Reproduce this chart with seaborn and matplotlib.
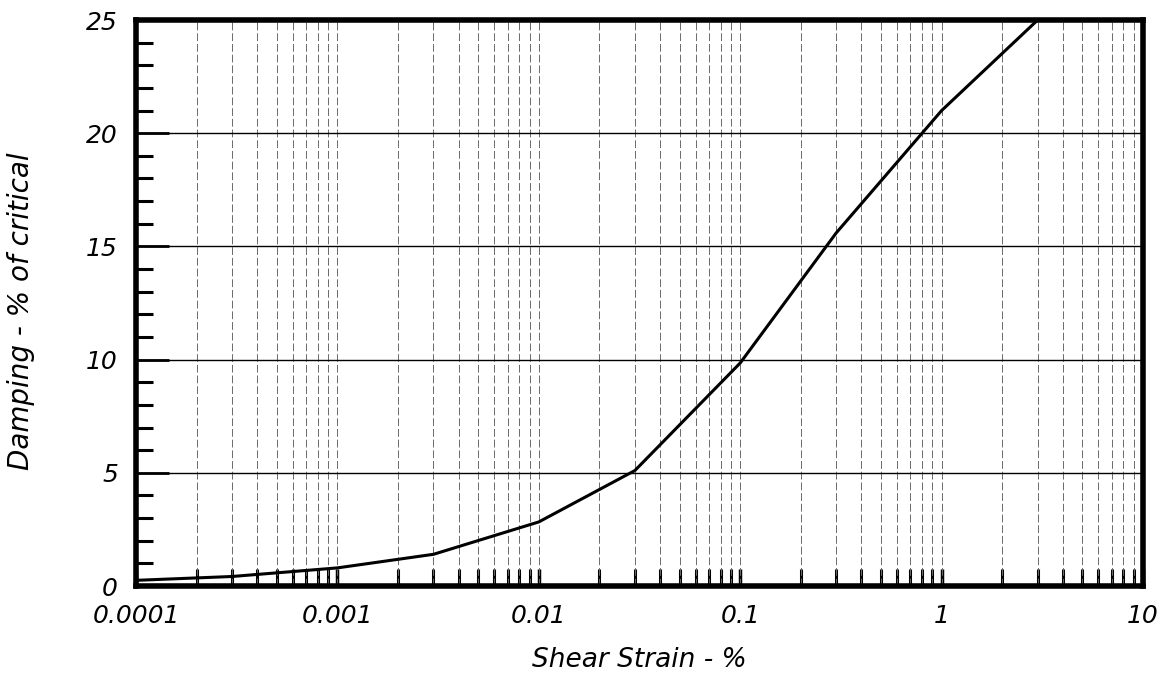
import numpy as np
import pandas as pd
import matplotlib
matplotlib.use("Agg")
import matplotlib.pyplot as plt
import seaborn as sns
from matplotlib.ticker import LogLocator, FixedLocator, FixedFormatter, MultipleLocator

strain = [0.0001, 0.0003, 0.001, 0.003, 0.01, 0.03, 0.1, 0.3, 1.0, 3.0]
damping = [0.25, 0.42, 0.8, 1.4, 2.83, 5.1, 9.85, 15.6, 21.0, 25.0]
xtick_vals = [0.0001, 0.001, 0.01, 0.1, 1, 10]
xtick_labels = ["0.0001", "0.001", "0.01", "0.1", "1", "10"]
ytick_vals = [0, 5, 10, 15, 20, 25]

sns.set_theme(style="white")
plt.rcParams['font.family'] = ['DejaVu Sans']
plt.rcParams['font.style'] = 'italic'
plt.rcParams['text.color'] = 'black'
plt.rcParams['axes.labelcolor'] = 'black'
plt.rcParams['xtick.color'] = 'black'
plt.rcParams['ytick.color'] = 'black'

df = pd.DataFrame({"strain": strain, "damping": damping})

fig = plt.figure(figsize=(11.76, 6.79), dpi=100)
ax = fig.add_axes([136/1176, 1 - 586/679, (1143-136)/1176, (586-20)/679])

ax.set_xscale("log")
ax.set_xlim(1e-4, 10)
ax.set_ylim(0, 25)

# grid
for dec in [1e-4, 1e-3, 1e-2, 1e-1, 1]:
    for m in range(1, 10):
        xv = dec * m
        if 1e-4 < xv < 10:
            ax.axvline(xv, color="#6a6a6a", lw=0.7, ls=(0, (8, 3)), zorder=1)
for yv in [5, 10, 15, 20]:
    ax.axhline(yv, color="black", lw=1.0, zorder=1)

sns.lineplot(data=df, x="strain", y="damping", ax=ax, color="black", lw=2.2, zorder=3, clip_on=True)

ax.xaxis.set_major_locator(FixedLocator(xtick_vals))
ax.xaxis.set_major_formatter(FixedFormatter(xtick_labels))
ax.xaxis.set_minor_locator(LogLocator(base=10, subs=np.arange(2, 10), numticks=20))
ax.yaxis.set_major_locator(FixedLocator(ytick_vals))
ax.yaxis.set_minor_locator(MultipleLocator(1))

ax.tick_params(axis="x", which="major", direction="in", length=12, width=2.5,
               labelsize=18, labelcolor="black", pad=13)
ax.tick_params(axis="y", which="major", direction="in", length=24, width=2.0,
               labelsize=18, labelcolor="black", pad=13)
ax.tick_params(axis="both", which="minor", direction="in", length=12, width=2.2, color="black")
ax.tick_params(axis="x", which="both", top=False, bottom=True)
ax.tick_params(axis="y", which="both", right=False, left=True)

for lab in ax.get_xticklabels() + ax.get_yticklabels():
    lab.set_fontstyle("italic")

for s in ax.spines.values():
    s.set_linewidth(4)
    s.set_color("black")
    s.set_visible(True)

ax.set_xlabel("Shear Strain - %", fontsize=19, fontstyle="italic", color="black")
ax.xaxis.set_label_coords(0.5, -0.108)
ax.set_ylabel("Damping - % of critical", fontsize=20, fontstyle="italic", color="black")
ax.yaxis.set_label_coords(-0.1, 0.486)

fig.savefig("out.png", dpi=100, facecolor="white")
